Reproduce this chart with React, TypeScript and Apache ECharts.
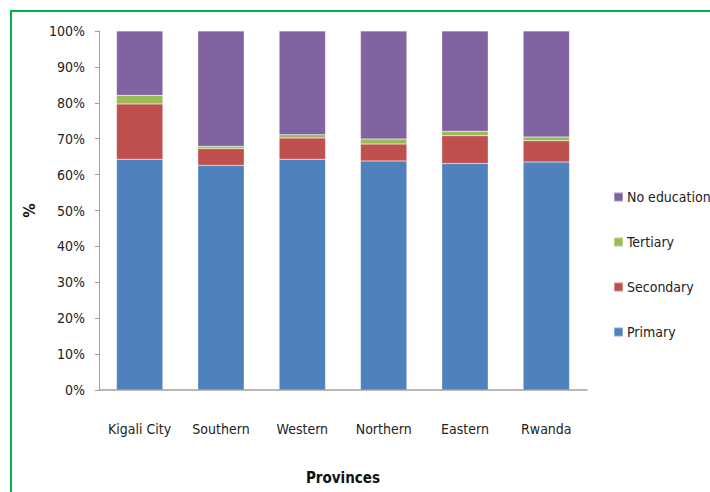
import React, { useEffect, useRef } from "react";
import * as echarts from "echarts";

const categories = ["Kigali City", "Southern", "Western", "Northern", "Eastern", "Rwanda"];
const primary = [64.3, 62.6, 64.3, 63.8, 63.1, 63.5];
const secondary = [15.4, 4.6, 5.9, 4.7, 7.7, 5.9];
const tertiary = [2.4, 0.7, 0.9, 1.4, 1.3, 1.1];
const noEducation = [17.9, 32.1, 28.9, 30.1, 27.9, 29.5];
const seriesNames = ["Primary", "Secondary", "Tertiary", "No education"];
const colors = ["#4F81BD", "#C0504D", "#9BBB59", "#8064A2"];

const FONT = "'DejaVu Sans Condensed', 'Liberation Sans Narrow', sans-serif";

export default function App() {
  const ref = useRef<HTMLDivElement>(null);
  useEffect(() => {
    if (!ref.current) return;
    const chart = echarts.init(ref.current, undefined, { renderer: "svg" });
    const data = [primary, secondary, tertiary, noEducation];
    chart.setOption({
      animation: false,
      backgroundColor: "#ffffff",
      textStyle: { fontFamily: FONT },
      grid: { left: 99, right: 123, top: 31, bottom: 102, containLabel: false },
      legend: {
        orient: "vertical",
        left: 608,
        top: 185,
        itemGap: 31,
        itemWidth: 9,
        itemHeight: 9,
        icon: "rect",
        data: ["No education", "Tertiary", "Secondary", "Primary"],
        textStyle: { fontFamily: FONT, fontSize: 14, color: "#222", padding: [0, 0, 0, -1] },
      },
      xAxis: {
        type: "category",
        data: categories,
        name: "Provinces",
        nameLocation: "middle",
        nameGap: 80,
        nameTextStyle: { fontFamily: FONT, fontSize: 15, fontWeight: "bold", color: "#111" },
        axisLine: { lineStyle: { color: "#A0A0A0", width: 1.5 } },
        axisTick: { show: false },
        axisLabel: { fontFamily: FONT, fontSize: 14, color: "#222", margin: 32, interval: 0 },
      },
      yAxis: {
        type: "value",
        min: 0,
        max: 100,
        interval: 10,
        name: "%",
        nameLocation: "middle",
        nameGap: 62,
        nameRotate: 90,
        nameTextStyle: { fontFamily: FONT, fontSize: 16, fontWeight: "bold", color: "#111" },
        axisLine: { show: true, lineStyle: { color: "#A0A0A0", width: 1 } },
        axisTick: { show: true, length: 4, lineStyle: { color: "#A0A0A0" } },
        splitLine: { show: false },
        axisLabel: { fontFamily: FONT, fontSize: 14, color: "#222", margin: 14, formatter: "{value}%" },
      },
      graphic: [
        {
          type: "rect",
          shape: { x: 11, y: 11, width: 720, height: 500 },
          style: { fill: "none", stroke: "#00B050", lineWidth: 2 },
          silent: true,
        },
      ],
      series: seriesNames.map((name, i) => ({
        name,
        type: "bar",
        stack: "total",
        barWidth: "57%",
        data: data[i],
        itemStyle: { color: colors[i], borderColor: "rgba(255,255,255,0.35)", borderWidth: 0.5 },
      })),
    });
    return () => chart.dispose();
  }, []);
  return <div ref={ref} style={{ position: "absolute", left: 0, top: 0, width: 710, height: 492 }} />;
}
